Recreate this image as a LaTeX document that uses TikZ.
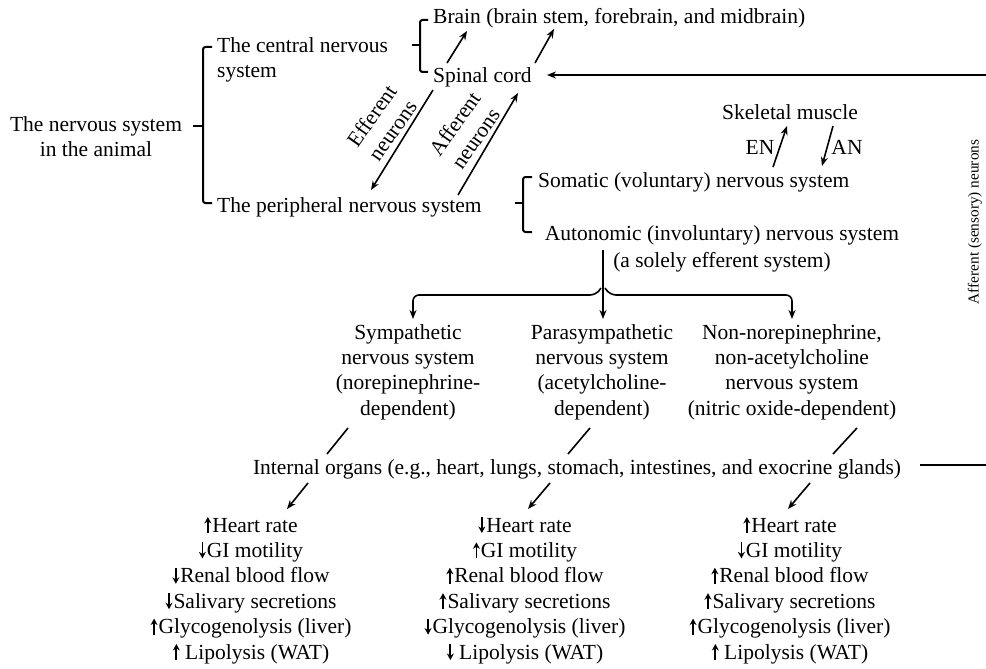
\documentclass[tikz,border=0pt]{standalone}
\usepackage{fontspec}
\setmainfont{Liberation Serif}
\usetikzlibrary{arrows.meta}
\newcommand\fsmain{\fontsize{21.5}{25.4}\selectfont}
\newcommand\myup{\tikz[baseline=0pt]\draw[line width=1.8pt,-{Stealth[length=6.5pt,width=7pt]}] (0pt,-1pt) -- (0pt,15pt);}
\newcommand\mydn{\tikz[baseline=0pt]\draw[line width=1.8pt,-{Stealth[length=6.5pt,width=7pt]}] (0pt,15pt) -- (0pt,-1pt);}
\begin{document}
\begin{tikzpicture}[x=1pt,y=-1pt,
  txt/.style={font=\fsmain, inner sep=0pt},
  brk/.style={line width=2pt, rounded corners=2.5pt},
  arr/.style={line width=1.6pt, -{Stealth[length=9pt,width=7pt]}},
  ln/.style={line width=1.6pt}]
\useasboundingbox (0,0) rectangle (986,669);

% titles (multi-line nodes: base anchor = last line baseline)
\node[txt, align=center, anchor=base] (ns) at (96,156.4) {The nervous system\\in the animal};
\node[txt, align=left, anchor=base west] (cns) at (217,77.4) {The central nervous\\system};
\node[txt, anchor=base west] (pns) at (217,212) {The peripheral nervous system};
\node[txt, anchor=base west] (brain) at (433,24) {Brain (brain stem, forebrain, and midbrain)};
\node[txt, anchor=base west] (spinal) at (433,83) {Spinal cord};
\node[txt, anchor=base] (skel) at (790,120) {Skeletal muscle};
\node[txt, anchor=base] (en) at (760,154) {EN};
\node[txt, anchor=base] (an) at (847,154) {AN};
\node[txt, anchor=base west] (som) at (538,187) {Somatic (voluntary) nervous system};
\node[txt, anchor=base] (auto) at (722,240) {Autonomic (involuntary) nervous system};
\node[txt, anchor=base] (solely) at (722,267) {(a solely efferent system)};

% brackets
\draw[brk] (193,126) -- (203,126);
\draw[brk] (212,47) -- (203,47) -- (203,203) -- (212,203);
\draw[brk] (412,45) -- (420,45);
\draw[brk] (428,20) -- (420,20) -- (420,72) -- (428,72);
\draw[brk] (515,203) -- (523,203);
\draw[brk] (532,177) -- (523,177) -- (523,232) -- (532,232);

% CNS arrows
\coordinate (b1s) at (447,63); \coordinate (b1e) at (467,31);
\coordinate (b2s) at (535,63); \coordinate (b2e) at (554,29);
\draw[arr] (b1s) -- (b1e);
\draw[arr] (b2s) -- (b2e);
\coordinate (rtop) at (986,75);
\coordinate (sctip) at (547,75);
\draw[arr] (rtop) -- (sctip);
\coordinate (efs) at (433,90); \coordinate (efe) at (371,190);
\coordinate (afs) at (458,195); \coordinate (afe) at (518,93);
\draw[arr] (efs) -- (efe);
\draw[arr] (afs) -- (afe);
\node[txt, rotate=55, align=center] (eflab) at (382,123) {Efferent\\neurons};
\node[txt, rotate=55, align=center] (aflab) at (465,131) {Afferent\\neurons};

% skeletal muscle arrows
\coordinate (ens) at (773,167); \coordinate (ene) at (787,126);
\coordinate (ans) at (833,126); \coordinate (ane) at (822,166);
\draw[arr] (ens) -- (ene);
\draw[arr] (ans) -- (ane);

% autonomic branching
\coordinate (brtop) at (603,250);
\draw[arr] (brtop) -- (603,319);
\draw[ln, -{Stealth[length=9pt,width=7pt]}, rounded corners=6pt] (601,288) -- (596,295) -- (413,295) -- (413,319);
\draw[ln, -{Stealth[length=9pt,width=7pt]}, rounded corners=6pt] (605,288) -- (610,295) -- (792,295) -- (792,319);

\node[txt, align=center, anchor=base] (sym) at (408,415.2) {Sympathetic\\nervous system\\(norepinephrine-\\dependent)};
\node[txt, align=center, anchor=base] (para) at (602,415.2) {Parasympathetic\\nervous system\\(acetylcholine-\\dependent)};
\node[txt, align=center, anchor=base] (nonn) at (792,415.2) {Non-norepinephrine,\\non-acetylcholine\\nervous system\\(nitric oxide-dependent)};

% internal organs
\node[txt, anchor=base] (int) at (577,474) {Internal organs (e.g., heart, lungs, stomach, intestines, and exocrine glands)};
\draw[ln] (348,428) -- (327,454);
\draw[ln] (590,428) -- (568,454);
\draw[ln] (857,428) -- (833,454);
\coordinate (rbot) at (986,465);
\coordinate (intr) at (920,465);
\draw[ln] (intr) -- (rbot);
\draw[arr] (308,483) -- (287,509);
\draw[arr] (550,483) -- (528,509);
\draw[arr] (810,483) -- (788,509);

\node[txt, rotate=90, font=\fontsize{15.3}{18}\selectfont] (affs) at (975,222) {Afferent (sensory) neurons};

% effect lists
\node[txt, align=center, anchor=base] (l1) at (251,659) {\myup\hspace{1pt}Heart rate\\\mydn\hspace{1pt}GI motility\\\mydn\hspace{1pt}Renal blood flow\\\mydn\hspace{1pt}Salivary secretions\\\myup\hspace{1pt}Glycogenolysis (liver)\\\myup\ Lipolysis (WAT)};
\node[txt, align=center, anchor=base] (l2) at (525,659) {\mydn\hspace{1pt}Heart rate\\\myup\hspace{1pt}GI motility\\\myup\hspace{1pt}Renal blood flow\\\myup\hspace{1pt}Salivary secretions\\\mydn\hspace{1pt}Glycogenolysis (liver)\\\mydn\ Lipolysis (WAT)};
\node[txt, align=center, anchor=base] (l3) at (790,659) {\myup\hspace{1pt}Heart rate\\\mydn\hspace{1pt}GI motility\\\myup\hspace{1pt}Renal blood flow\\\myup\hspace{1pt}Salivary secretions\\\myup\hspace{1pt}Glycogenolysis (liver)\\\myup\ Lipolysis (WAT)};
\end{tikzpicture}
\end{document}
